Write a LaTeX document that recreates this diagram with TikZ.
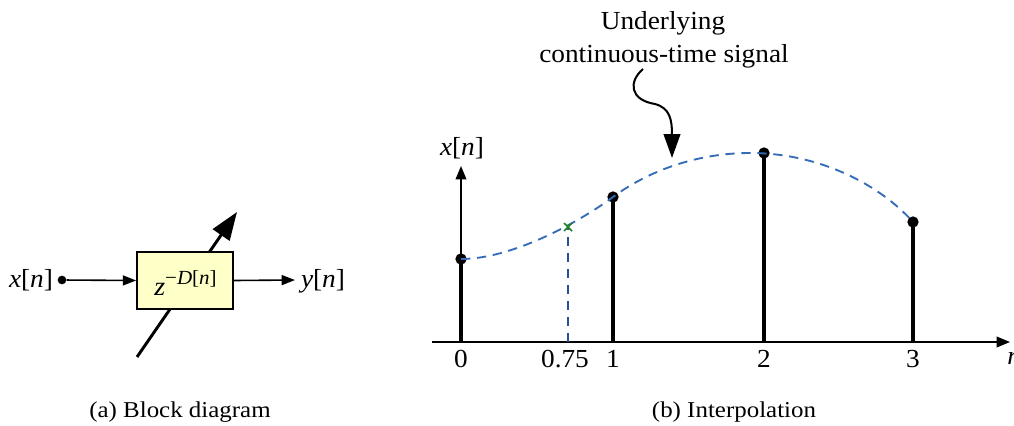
\documentclass[tikz,border=0pt]{standalone}
\usepackage{fontspec}
\setmainfont{Liberation Serif}[FakeStretch=1.05]
\newfontfamily\capfont{Liberation Serif}[FakeStretch=1.1]
\usetikzlibrary{arrows.meta}
\definecolor{boxyellow}{RGB}{255,255,200}
\definecolor{sigblue}{RGB}{52,108,184}
\definecolor{vblue}{RGB}{40,80,150}
\definecolor{xgreen}{RGB}{30,130,30}
\newcommand\lblfont{\fontsize{19.5pt}{22pt}\selectfont}
\newcommand\bigfont{\fontsize{19.5pt}{23pt}\selectfont}
\newcommand\capsize{\capfont\fontsize{17pt}{20pt}\selectfont}
\begin{document}
\begin{tikzpicture}[x=0.75pt,y=-0.75pt,
  lbl/.style={font=\lblfont, inner sep=0pt, anchor=base},
  toplbl/.style={font=\bigfont, inner sep=0pt, anchor=base},
  caplbl/.style={font=\capsize, inner sep=0pt, anchor=base},
  stemline/.style={line width=2.3pt},
  sdot/.style={circle, fill=black, inner sep=0pt, minimum size=8.5pt},
  axisline/.style={line width=1.1pt, -{Triangle[length=10pt,width=8pt]}},
  sigline/.style={draw=sigblue, line width=1.4pt, dash pattern=on 7pt off 5pt},
  thinarrow/.style={line width=1.2pt, -{Triangle[length=10pt,width=7.5pt]}},
  blockbox/.style={draw, line width=1.3pt, fill=boxyellow, minimum width=72pt, minimum height=43pt, inner sep=0pt}
]
\useasboundingbox (0,0) rectangle (1014,425);

% ---------- (a) block diagram ----------
\coordinate (dA) at (137,357);
\coordinate (dB) at (237,212);
\draw[line width=2.2pt, -{Triangle[length=21pt,width=15pt]}] (dA) -- (dB);
\node[blockbox] (box) at (185,280.5) {};
\node[inner sep=0pt, anchor=base] (ztext) at (185.5,295)
  {{\fontsize{20pt}{22pt}\selectfont\textit{z}}\raisebox{8pt}{\fontsize{15pt}{17pt}\selectfont −\textit{D}[\textit{n}]}};
\node[circle, fill=black, inner sep=0pt, minimum size=6.5pt] (xin) at (62,280) {};
\draw[thinarrow] (xin) -- (box.west);
\coordinate (yout) at (295,280);
\draw[thinarrow] (box.east) -- (yout);
\node[lbl] (xlab) at (31,287) {\textit{x}[\textit{n}]};
\node[lbl] (ylab) at (323,287) {\textit{y}[\textit{n}]};

% ---------- (b) interpolation ----------
\coordinate (xl) at (432,342);
\coordinate (xr) at (1010,342);
\coordinate (O) at (461,342);
\coordinate (yt) at (461,166);
\draw[axisline] (xl) -- (xr);
\draw[axisline] (O) -- (yt);
\node[lbl] (axlab) at (462,155) {\textit{x}[\textit{n}]};
\node[lbl, anchor=base west] (nlab) at (1007,364) {\textit{n}};

\coordinate (b0) at (461,342);
\coordinate (b1) at (613,342);
\coordinate (b2) at (764,342);
\coordinate (b3) at (913,342);
\node[sdot] (s0) at (461,259) {};
\node[sdot] (s1) at (613,197) {};
\node[sdot] (s2) at (764,153) {};
\node[sdot] (s3) at (913,222) {};
\draw[stemline] (b0) -- (s0.center);
\draw[stemline] (b1) -- (s1.center);
\draw[stemline] (b2) -- (s2.center);
\draw[stemline] (b3) -- (s3.center);

\coordinate (c075) at (568,227);
\coordinate (b075) at (568,342);
\draw[draw=vblue, line width=1.2pt, dash pattern=on 7pt off 5pt] (b075) -- (c075);

\draw[sigline] (s0.center) .. controls (510,259) and (575,225) .. (s1.center)
  .. controls (651,169) and (700,153) .. (750,153)
  .. controls (820,153) and (880,185) .. (s3.center);

\draw[xgreen, line width=1.2pt] ([shift={(-4,-4)}]c075) -- ([shift={(4,4)}]c075)
  ([shift={(-4,4)}]c075) -- ([shift={(4,-4)}]c075);

\node[lbl] (t0) at (461,367) {0};
\node[lbl] (t075) at (565,367) {0.75};
\node[lbl] (t1) at (613,367) {1};
\node[lbl] (t2) at (764,367) {2};
\node[lbl] (t3) at (913,367) {3};

\node[toplbl] (ul1) at (663,29) {Underlying};
\node[toplbl] (ul2) at (664,62) {continuous-time signal};
\coordinate (a0) at (643,69);
\coordinate (a1) at (672,158);
\draw[line width=1.5pt, -{Triangle[length=18pt,width=12.5pt]}] (a0) .. controls (628,82) and (630,100) .. (655,104) .. controls (670,108) and (672,120) .. (a1);

% ---------- captions ----------
\node[caplbl] (capa) at (180,417) {(a) Block diagram};
\node[caplbl] (capb) at (734,417) {(b) Interpolation};
\end{tikzpicture}
\end{document}
